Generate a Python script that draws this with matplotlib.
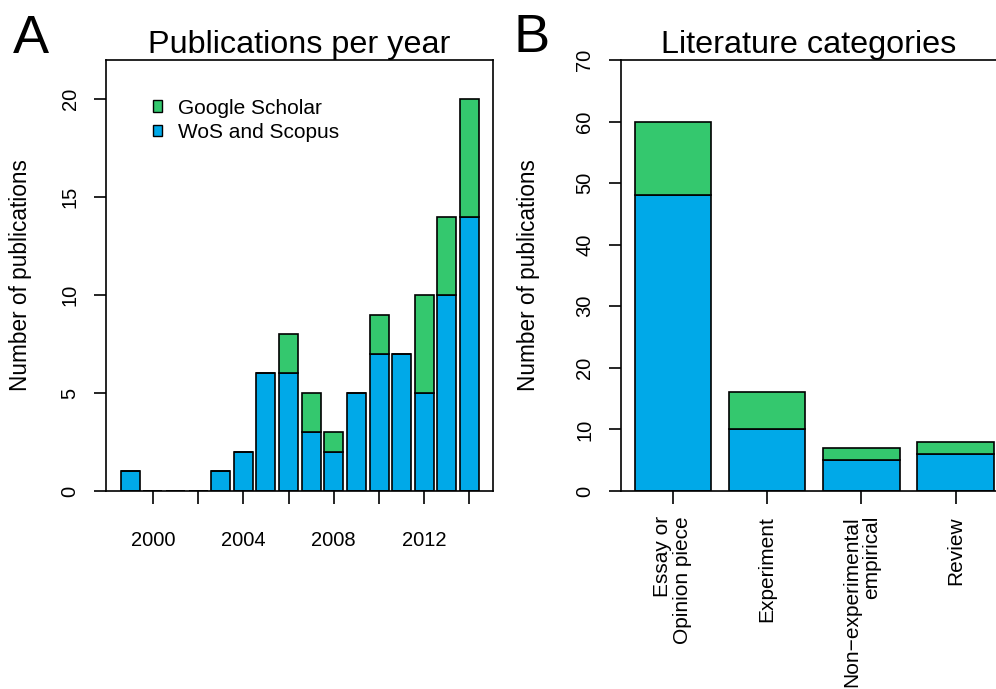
import numpy as np
import matplotlib
matplotlib.use("Agg")
import matplotlib.pyplot as plt
from matplotlib.patches import Patch

plt.rcParams['font.family'] = ['Liberation Sans', 'DejaVu Sans']

# panel A data
years = list(range(1999, 2015))
wos_scopus = [1, 0, 0, 0, 1, 2, 6, 6, 3, 2, 5, 7, 7, 5, 10, 14]
google_scholar = [0, 0, 0, 0, 0, 0, 0, 2, 2, 1, 0, 2, 0, 5, 4, 6]
year_ticks = list(range(2000, 2015, 2))
year_labels = ['2000', '', '2004', '', '2008', '', '2012', '']

# panel B data
categories = ['Essay or\nOpinion piece', 'Experiment', 'Non\u2212experimental\nempirical', 'Review']
cat_wos = [48, 10, 5, 6]
cat_google = [12, 6, 2, 2]

green = '#34C86E'
blue = '#00A9E8'
W, H = 996, 689

fig = plt.figure(figsize=(W / 100, H / 100), dpi=100)

def px_axes(left, top, right, bottom):
    return fig.add_axes([left / W, 1 - bottom / H, (right - left) / W, (bottom - top) / H])

def style(ax):
    for s in ax.spines.values():
        s.set_linewidth(1.2)
    ax.tick_params(direction='out', length=9, width=1.2, labelsize=14.5)
    ax.tick_params(axis='y', labelrotation=90, pad=10)

# ---- A ----
axA = px_axes(106, 60, 493, 491)
axA.bar(years, wos_scopus, width=0.84, color=blue, edgecolor='black', linewidth=1.2)
axA.bar(years, google_scholar, bottom=wos_scopus, width=0.84, color=green, edgecolor='black', linewidth=1.2)
axA.set_xlim(1997.93, 2015.04)
axA.set_ylim(0, 22)
axA.set_yticks([0, 5, 10, 15, 20])
axA.set_xticks(year_ticks)
axA.set_xticklabels(year_labels)
style(axA)
axA.tick_params(axis='x', pad=20)
for lab in axA.get_yticklabels():
    lab.set_va('center')
axA.set_title('Publications per year', fontsize=23.3, pad=3.6)
axA.set_ylabel('Number of publications', fontsize=16.3)
axA.yaxis.set_label_coords(-0.192, 0.5)
handles = [Patch(facecolor=green, edgecolor='black', linewidth=1.0),
           Patch(facecolor=blue, edgecolor='black', linewidth=1.0)]
axA.legend(handles, ['Google Scholar', 'WoS and Scopus'], loc='upper left',
           bbox_to_anchor=(0.1, 0.93), frameon=False, fontsize=15,
           handlelength=0.45, handleheight=0.45, handletextpad=0.75,
           labelspacing=0.25, borderaxespad=0)

# ---- B ----
axB = px_axes(620.7, 60, 1009, 491)
pos = np.arange(len(categories))
axB.bar(pos, cat_wos, width=0.81, color=blue, edgecolor='black', linewidth=1.2)
axB.bar(pos, cat_google, bottom=cat_wos, width=0.81, color=green, edgecolor='black', linewidth=1.2)
axB.set_xlim(-0.553, 3.566)
axB.set_ylim(0, 70)
axB.set_yticks(range(0, 71, 10))
axB.set_xticks(pos)
axB.set_xticklabels(categories)
style(axB)
axB.tick_params(axis='x', pad=9)
for lab in axB.get_xticklabels():
    lab.set_rotation(90)
    lab.set_va('top')
    lab.set_ha('center')
    lab.set_multialignment('right')
    lab.set_linespacing(1.05)
    lab.set_fontsize(15)
for lab in axB.get_yticklabels():
    lab.set_va('center')
axB.set_title('Literature categories', fontsize=23.3, pad=3.6, x=0.483)
axB.set_ylabel('Number of publications', fontsize=16.3)
axB.yaxis.set_label_coords(-0.208, 0.5)

fig.text(13 / W, 1 - 53 / H, 'A', fontsize=39, va='baseline', ha='left')
fig.text(513 / W, 1 - 52 / H, 'B', fontsize=39, va='baseline', ha='left')

fig.savefig('out.png', dpi=100)
